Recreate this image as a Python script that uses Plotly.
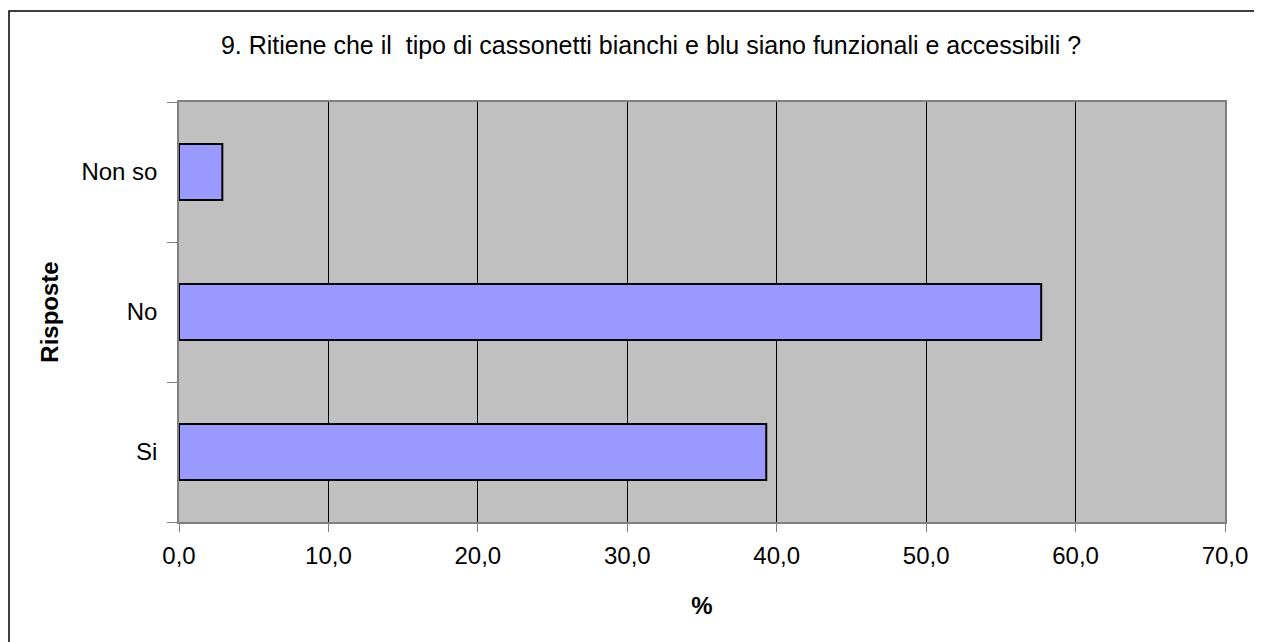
import plotly.graph_objects as go

categories = ["Si", "No", "Non so"]
values = [39.3, 57.7, 2.9]
x_ticks = [0, 10, 20, 30, 40, 50, 60, 70]
x_labels = ["0,0", "10,0", "20,0", "30,0", "40,0", "50,0", "60,0", "70,0"]
title_text = "9. Ritiene che il\u00a0 tipo di cassonetti bianchi e blu siano funzionali e accessibili ?"

# page body has an 8px default margin; figure is offset by (8, 8)
OFF = 8
W, H = 1262, 642
ml, mr, mt, mb = 179 - OFF, 37 + OFF, 102 - OFF, 120 + OFF
pw = W - ml - mr
ph = H - mt - mb

FONT = "Liberation Sans, Arial, sans-serif"
FS = 24

fig = go.Figure(go.Bar(
    x=values, y=categories, orientation="h",
    marker=dict(color="#9999FF", line=dict(color="black", width=2)),
    width=0.4,
))

fig.update_layout(
    width=W, height=H,
    margin=dict(l=ml, r=mr, t=mt, b=mb, pad=0),
    paper_bgcolor="white", plot_bgcolor="#C0C0C0",
    font=dict(family=FONT, size=FS, color="black"),
    showlegend=False,
    title=dict(text=title_text, x=(651 - OFF) / W, xanchor="center",
               y=1 - (45 - OFF) / H, yanchor="middle", xref="container", yref="container",
               font=dict(family=FONT, size=25, color="black")),
    xaxis=dict(range=[0, 70], tickvals=x_ticks, ticktext=x_labels,
               showgrid=True, gridcolor="black", gridwidth=1,
               zeroline=False, showline=True, linecolor="#808080", linewidth=1.5,
               mirror=True, ticks="outside", ticklen=8, tickcolor="#808080",
               ticklabelstandoff=3,
               title=dict(text="<b>%</b>", standoff=30, font=dict(size=FS))),
    yaxis=dict(type="category", categoryorder="array", categoryarray=categories,
               showgrid=False, zeroline=False, showline=True, linecolor="#808080",
               linewidth=1.5, mirror=True, ticks="outside", ticklen=10,
               tickcolor="#808080", tickson="boundaries", ticklabelstandoff=15,
               title=dict(text="<b>Risposte</b>", standoff=16, font=dict(size=FS))),
)

fig.add_shape(type="rect", xref="paper", yref="paper",
              x0=(1 - ml) / pw, x1=(W + 10 - ml) / pw,
              y0=-(H + 10 - (H - mb)) / ph, y1=1 + (mt - 3) / ph,
              line=dict(color="black", width=1.5), fillcolor="rgba(0,0,0,0)", layer="below")

fig.write_html("out.html")
